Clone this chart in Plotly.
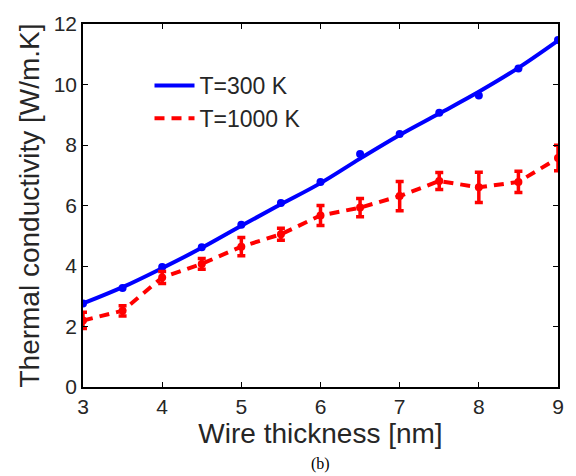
import plotly.graph_objects as go

thickness = [3, 3.5, 4, 4.5, 5, 5.5, 6, 6.5, 7, 7.5, 8, 8.5, 9]
k_300 = [2.76, 3.27, 3.97, 4.62, 5.36, 6.08, 6.78, 7.70, 8.36, 9.07, 9.64, 10.53, 11.47]
k_300_fit = [2.76, 3.30, 3.93, 4.60, 5.33, 6.04, 6.74, 7.55, 8.33, 9.04, 9.76, 10.55, 11.45]
k_1000 = [2.20, 2.52, 3.62, 4.07, 4.64, 5.05, 5.67, 5.93, 6.31, 6.81, 6.60, 6.78, 7.57]
k_1000_err = [0.27, 0.17, 0.20, 0.18, 0.30, 0.20, 0.33, 0.30, 0.48, 0.28, 0.50, 0.35, 0.42]

x_ticks = [3, 4, 5, 6, 7, 8, 9]
y_ticks = [0, 2, 4, 6, 8, 10, 12]

txt = "#262626"
font = "Liberation Sans, Arial, sans-serif"

fig = go.Figure()
fig.add_trace(go.Scatter(x=thickness, y=k_300_fit, mode="lines", name="T=300 K",
                         line=dict(color="#0000ff", width=4, shape="spline", smoothing=1.0)))
fig.add_trace(go.Scatter(x=thickness, y=k_300, mode="markers", showlegend=False,
                         marker=dict(color="#0000ff", size=8)))
fig.add_trace(go.Scatter(x=thickness, y=k_1000, mode="lines", name="T=1000 K",
                         line=dict(color="#ff0000", width=4, dash="10px,7px")))
fig.add_trace(go.Scatter(x=thickness, y=k_1000, mode="markers", showlegend=False,
                         marker=dict(color="#ff0000", size=8),
                         error_y=dict(type="data", array=k_1000_err, visible=True,
                                      color="#ff0000", thickness=3.5, width=4)))

fig.update_layout(
    width=576, height=476,
    margin=dict(l=83, r=14, t=19, b=89),
    paper_bgcolor="white", plot_bgcolor="white",
    font=dict(family=font, color=txt, size=20),
    legend=dict(x=0.14, y=0.89, xanchor="left", yanchor="top",
                bgcolor="rgba(0,0,0,0)", font=dict(size=23, color=txt),
                itemwidth=40, tracegroupgap=0),
    xaxis=dict(range=[3, 9], tickvals=x_ticks, ticks="inside", ticklen=5,
               tickcolor="black", showline=True, linecolor="black", linewidth=1.5,
               mirror="ticks", showgrid=False, zeroline=False,
               tickfont=dict(size=21, color=txt),
               title=dict(text="Wire thickness [nm]", font=dict(size=28, color=txt), standoff=0)),
    yaxis=dict(range=[0, 12], tickvals=y_ticks, ticks="inside", ticklen=5,
               tickcolor="black", showline=True, linecolor="black", linewidth=1.5,
               mirror="ticks", showgrid=False, zeroline=False,
               tickfont=dict(size=21, color=txt),
               title=dict(text="Thermal conductivity [W/m.K]", font=dict(size=28, color=txt), standoff=6)),
    annotations=[dict(text="(b)", x=0.5, y=-0.213, xref="paper", yref="paper",
                      showarrow=False, xanchor="center", yanchor="middle",
                      font=dict(family="Liberation Serif, Times New Roman, serif", size=16, color="black"))],
)

fig.write_html("out.html")
